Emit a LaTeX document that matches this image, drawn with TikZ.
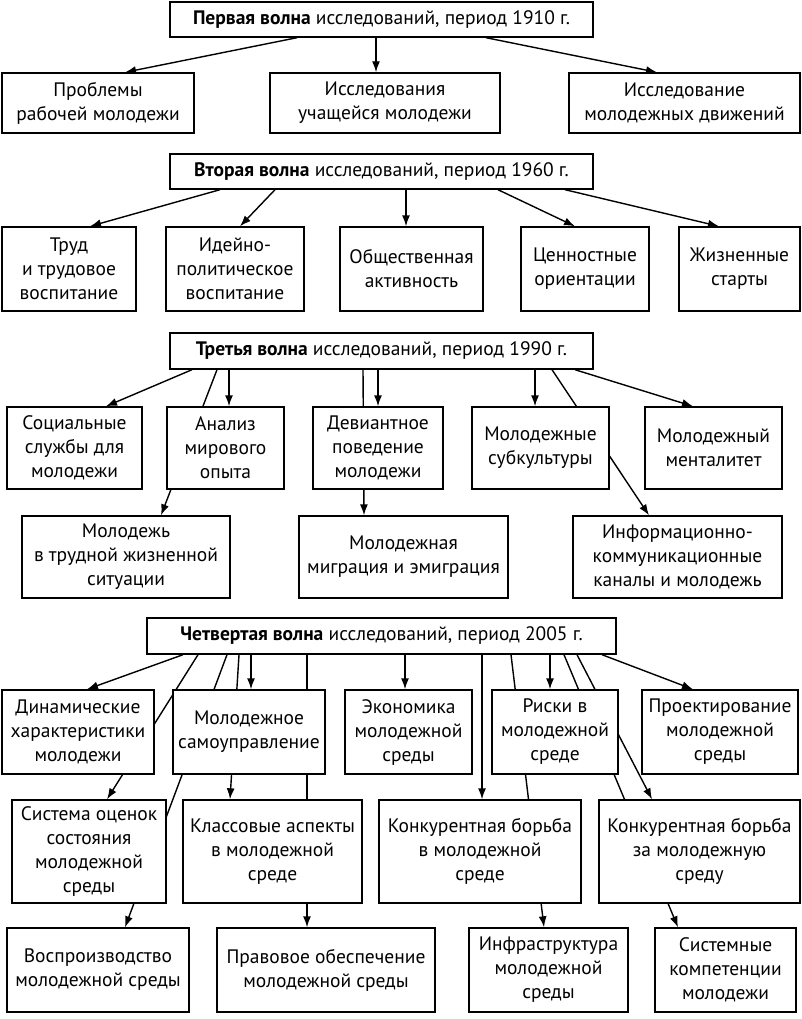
\documentclass[tikz,border=0pt]{standalone}
\usepackage{fontspec}
\setmainfont{PT Sans}
\usetikzlibrary{arrows.meta}
\pgfdeclarelayer{bg}
\pgfsetlayers{bg,main}
\newcommand\bx[6]{\node[box,minimum width={(#4-#2)*1pt},minimum height={(#5-#3)*1pt}] (#1) at ({(#2+#4)/2},{(#3+#5)/2}) {#6};}
\begin{document}
\begin{tikzpicture}[x=1pt,y=-1pt,
  box/.style={draw,line width=1.4pt,fill=white,align=center,inner sep=1pt,font=\fontsize{19.5}{24}\selectfont},
  arr/.style={-{Latex[length=11pt,width=8pt]},line width=1.4pt},
  ln/.style={line width=1.4pt}]
\useasboundingbox (0,0) rectangle (802,1019);
% wave 1
\bx{h1}{170}{2}{593}{37}{\textbf{Первая волна} исследований, период 1910 г.}
\bx{a1}{2}{73}{194}{133}{Проблемы\\рабочей молодежи}
\bx{a2}{270}{73}{500}{133}{Исследования\\учащейся молодежи}
\bx{a3}{569}{73}{800}{133}{Исследование\\молодежных движений}
% wave 2
\bx{h2}{170}{154}{593}{189}{\textbf{Вторая волна} исследований, период 1960 г.}
\bx{b1}{2}{227}{136}{311}{Труд\\и трудовое\\воспитание}
\bx{b2}{166}{227}{304}{311}{Идейно-\\политическое\\воспитание}
\bx{b3}{340}{227}{483}{311}{Общественная\\активность}
\bx{b4}{521}{227}{649}{311}{Ценностные\\ориентации}
\bx{b5}{679}{227}{800}{311}{Жизненные\\старты}
% wave 3
\bx{h3}{170}{333}{593}{369}{\textbf{Третья волна} исследований, период 1990 г.}
\bx{c1}{7}{407}{142}{489}{Социальные\\службы для\\молодежи}
\bx{c2}{167}{407}{284}{489}{Анализ\\мирового\\опыта}
\bx{c3}{313}{407}{443}{489}{Девиантное\\поведение\\молодежи}
\bx{c4}{472}{407}{609}{489}{Молодежные\\субкультуры}
\bx{c5}{645}{407}{782}{489}{Молодежный\\менталитет}
\bx{d1}{22}{516}{230}{598}{Молодежь\\в трудной жизненной\\ситуации}
\bx{d2}{299}{516}{508}{598}{Молодежная\\миграция и эмиграция}
\bx{d3}{573}{516}{782}{598}{Информационно-\\коммуникационные\\каналы и молодежь}
% wave 4
\bx{h4}{147}{618}{616}{654}{\textbf{Четвертая волна} исследований, период 2005 г.}
\bx{e1}{2}{690}{154}{774}{Динамические\\характеристики\\молодежи}
\bx{e2}{173}{690}{325}{774}{Молодежное\\самоуправление}
\bx{e3}{345}{690}{472}{774}{Экономика\\молодежной\\среды}
\bx{e4}{492}{690}{618}{774}{Риски в\\молодежной\\среде}
\bx{e5}{642}{690}{798}{774}{Проектирование\\молодежной\\среды}
\bx{f1}{12}{800}{166}{903}{Система оценок\\состояния\\молодежной\\среды}
\bx{f2}{183}{800}{362}{903}{Классовые аспекты\\в молодежной\\среде}
\bx{f3}{379}{800}{581}{903}{Конкурентная борьба\\в молодежной\\среде}
\bx{f4}{599}{800}{800}{903}{Конкурентная борьба\\за молодежную\\среду}
\bx{g1}{7}{928}{189}{1012}{Воспроизводство\\молодежной среды}
\bx{g2}{217}{928}{435}{1012}{Правовое обеспечение\\молодежной среды}
\bx{g3}{469}{928}{628}{1012}{Инфраструктура\\молодежной\\среды}
\bx{g4}{655}{928}{796}{1012}{Системные\\компетенции\\молодежи}
\begin{pgfonlayer}{bg}
% wave 1
\draw[arr] ([xshift=-84.5pt]h1.south) -- ([xshift=27pt]a1.north);
\draw[arr] ([xshift=-5.5pt]h1.south) -- ([xshift=-9pt]a2.north);
\draw[arr] ([xshift=104.5pt]h1.south) -- ([xshift=-27.5pt]a3.north);
% wave 2
\draw[arr] ([xshift=-161.5pt]h2.south) -- ([xshift=21pt]b1.north);
\draw[arr] ([xshift=-106.5pt]h2.south) -- ([xshift=5pt]b2.north);
\draw[arr] ([xshift=24.5pt]h2.south) -- ([xshift=-5.5pt]b3.north);
\draw[arr] ([xshift=116.5pt]h2.south) -- ([xshift=-10pt]b4.north);
\draw[arr] ([xshift=183.5pt]h2.south) -- ([xshift=-20.5pt]b5.north);
% wave 3
\draw[arr] ([xshift=-189.5pt]h3.south) -- ([xshift=31.5pt]c1.north);
\draw[arr] ([xshift=-164.5pt]h3.south) -- ([xshift=35pt]d1.north);
\draw[arr] ([xshift=-152.5pt]h3.south) -- ([xshift=3.5pt]c2.north);
\draw[arr] ([xshift=-18.5pt]h3.south) -- ([xshift=-39.5pt]d2.north);
\draw[arr] ([xshift=-3.5pt]h3.south) -- ([xshift=0pt]c3.north);
\draw[arr] ([xshift=153.5pt]h3.south) -- ([xshift=-5.5pt]c4.north);
\draw[arr] ([xshift=170.5pt]h3.south) -- ([xshift=-28.5pt]d3.north);
\draw[arr] ([xshift=193.5pt]h3.south) -- ([xshift=-20.5pt]c5.north);
% wave 4
\draw[arr] ([xshift=-198.5pt]h4.south) -- ([xshift=9pt]e1.north);
\draw[arr] ([xshift=-183.5pt]h4.south) -- ([xshift=18pt]f1.north);
\draw[arr] ([xshift=-154.5pt]h4.south) -- ([xshift=27pt]g1.north);
\draw[arr] ([xshift=-142.5pt]h4.south) -- ([xshift=-42.5pt]f2.north);
\draw[arr] ([xshift=-74.5pt]h4.south) -- ([xshift=-19pt]g2.north);
\draw[arr] ([xshift=-130.5pt]h4.south) -- ([xshift=2pt]e2.north);
\draw[arr] ([xshift=23.5pt]h4.south) -- ([xshift=-3.5pt]e3.north);
\draw[arr] ([xshift=100.5pt]h4.south) -- ([xshift=2pt]f3.north);
\draw[arr] ([xshift=129.5pt]h4.south) -- ([xshift=-4.5pt]g3.north);
\draw[arr] ([xshift=168.5pt]h4.south) -- ([xshift=-5pt]e4.north);
\draw[arr] ([xshift=182.5pt]h4.south) -- ([xshift=-47.5pt]g4.north);
\draw[arr] ([xshift=195.5pt]h4.south) -- ([xshift=-47.5pt]f4.north);
\draw[arr] ([xshift=220.5pt]h4.south) -- ([xshift=-27pt]e5.north);
\end{pgfonlayer}
\end{tikzpicture}
\end{document}
